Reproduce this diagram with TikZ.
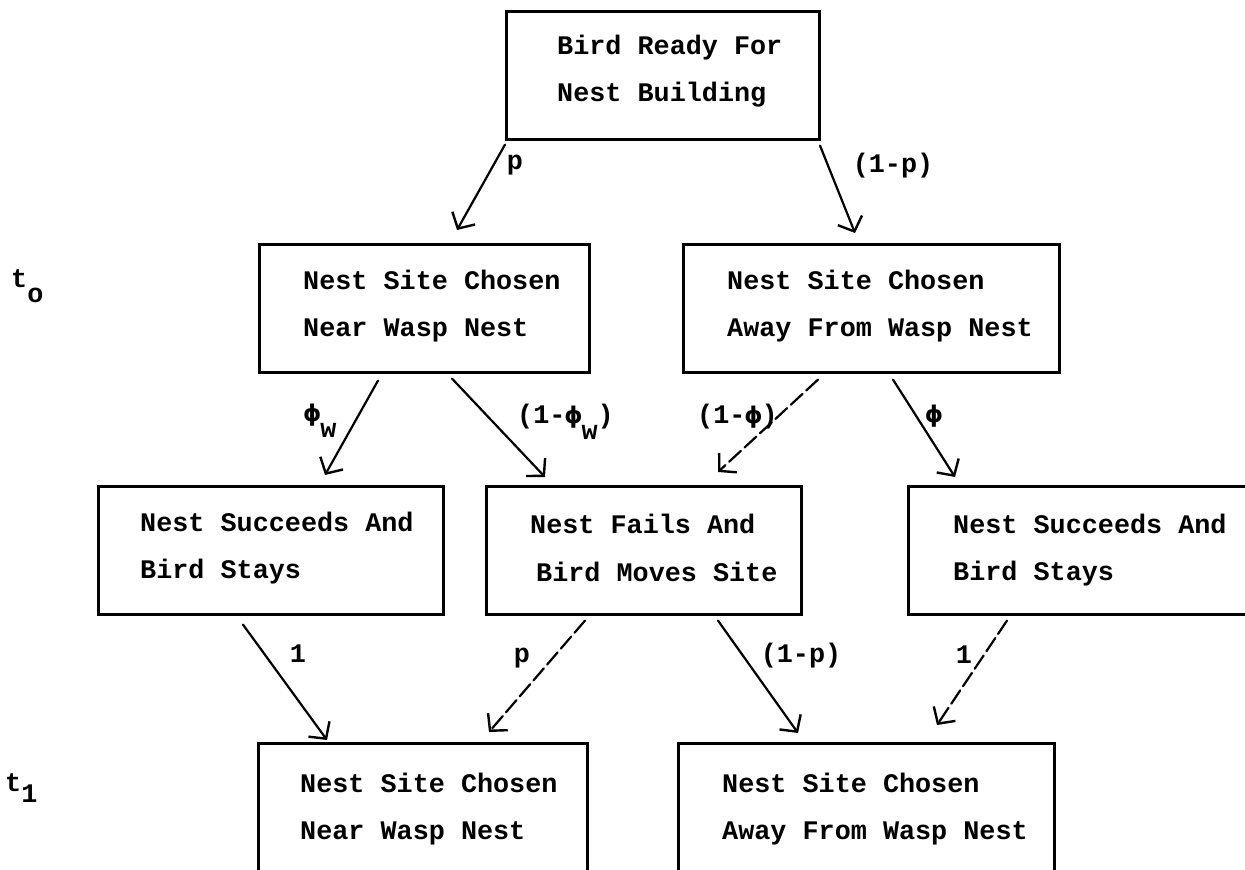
\documentclass[tikz,border=0pt]{standalone}
\usepackage{fontspec}
\usetikzlibrary{arrows.meta}
\newfontfamily\twfont{Liberation Mono}[BoldFont={Liberation Mono Bold}]
\newfontfamily\phifont{DejaVu Sans}[BoldFont={DejaVu Sans Bold}]
% straight phi, one typewriter cell wide
\newcommand\ph{\makebox[16.08pt]{\phifont\bfseries\fontsize{23}{28}\selectfont ϕ}}
% typewriter-style subscript: the next character, dropped below the line
\newcommand\lowr[2][16pt]{\raisebox{-#1}{#2}}

\begin{document}
\begin{tikzpicture}[x=1pt,y=-1pt,
  frame/.style={draw, line width=2.6pt, rectangle, anchor=north west,
    minimum height=128pt, inner sep=0pt},
  txt/.style={anchor=west, align=left, inner sep=0pt,
    font=\twfont\bfseries\fontsize{26.8}{47.5}\selectfont},
  lbl/.style={inner sep=0pt, font=\twfont\bfseries\fontsize{26.8}{32}\selectfont},
  conn/.style={line width=2.2pt, line cap=round,
    -{Straight Barb[length=12pt,width=26pt,line width=2.4pt]}},
  broken/.style={dash pattern=on 16pt off 5pt}
]
\useasboundingbox (0,0) rectangle (1245,870);
\fill[white] (0,0) rectangle (1245,870);
\clip (0,0) rectangle (1245,870);

% boxes
\node[frame, minimum width=313pt] (top)   at (505,10)  {};
\node[frame, minimum width=330pt] (nearA) at (258,243) {};
\node[frame, minimum width=376pt] (awayA) at (682,243) {};
\node[frame, minimum width=345pt] (stayL) at (97,485)  {};
\node[frame, minimum width=315pt] (fail)  at (485,485) {};
\node[frame, minimum width=420pt] (stayR) at (907,485) {};
\node[frame, minimum width=329pt, minimum height=220pt] (nearB) at (257,742) {};
\node[frame, minimum width=376pt, minimum height=220pt] (awayB) at (677,742) {};

% box texts
\node[txt] (topT)   at ([xshift=52pt,yshift=-61pt]top.north west)   {Bird Ready For\\Nest Building};
\node[txt] (nearAT) at ([xshift=45pt,yshift=-63pt]nearA.north west) {Nest Site Chosen\\Near Wasp Nest};
\node[txt] (awayAT) at ([xshift=45pt,yshift=-63pt]awayA.north west) {Nest Site Chosen\\Away From Wasp Nest};
\node[txt] (stayLT) at ([xshift=43pt,yshift=-63pt]stayL.north west) {Nest Succeeds And\\Bird Stays};
\node[txt] (failT)  at ([xshift=45pt,yshift=-63pt]fail.north west)  {Nest Fails And\\\hspace*{6pt}Bird Moves Site};
\node[txt] (stayRT) at ([xshift=46pt,yshift=-65pt]stayR.north west) {Nest Succeeds And\\Bird Stays};
\node[txt] (nearBT) at ([xshift=43pt,yshift=-67pt]nearB.north west) {Nest Site Chosen\\Near Wasp Nest};
\node[txt] (awayBT) at ([xshift=45pt,yshift=-67pt]awayB.north west) {Nest Site Chosen\\Away From Wasp Nest};

% time labels
\node[lbl, anchor=base west] (t0) at (11,287) {t\lowr[15pt]{o}};
\node[lbl, anchor=base west] (t1) at (5,791)  {t\lowr[11pt]{1}};

% transitions
\draw[conn] ([yshift=-4pt]top.south west) -- ([xshift=199pt,yshift=13pt]nearA.north west);
\draw[conn] ([xshift=315pt,yshift=-5pt]top.south west) -- ([xshift=173pt,yshift=10pt]awayA.north west);
\draw[conn] ([xshift=120pt,yshift=-7pt]nearA.south west) -- ([xshift=228pt,yshift=10pt]stayL.north west);
\draw[conn] ([xshift=194pt,yshift=-5pt]nearA.south west) -- ([xshift=60pt,yshift=8pt]fail.north west);
\draw[conn, broken] ([xshift=136pt,yshift=-6pt]awayA.south west) -- ([xshift=233pt,yshift=13pt]fail.north west);
\draw[conn] ([xshift=211pt,yshift=-6pt]awayA.south west) -- ([xshift=48pt,yshift=8pt]stayR.north west);
\draw[conn] ([xshift=146pt,yshift=-9pt]stayL.south west) -- ([xshift=70pt,yshift=2pt]nearB.north west);
\draw[conn, broken] ([xshift=100pt,yshift=-5pt]fail.south west) -- ([xshift=232pt,yshift=10pt]nearB.north west);
\draw[conn] ([xshift=233pt,yshift=-5pt]fail.south west) -- ([xshift=121pt,yshift=9pt]awayB.north west);
\draw[conn, broken] ([xshift=100pt,yshift=-5pt]stayR.south west) -- ([xshift=260pt,yshift=17pt]awayB.north west);

% transition probabilities
\node[lbl] (pA) at (515,165) {p};
\node[lbl] (qA) at (893,166) {(1-p)};
\node[lbl, anchor=base west] (phiw)  at (304,421) {\ph\lowr{w}};
\node[lbl, anchor=base west] (qphiw) at (517,423) {(1-\ph\lowr{w})};
\node[lbl, anchor=base west] (qphi)  at (697,423) {(1-\ph)};
\node[lbl] (phi)  at (934,416) {\ph};
\node[lbl] (oneL) at (298,654) {1};
\node[lbl] (pB)   at (522,658) {p};
\node[lbl] (qB)   at (801,656) {(1-p)};
\node[lbl] (oneR) at (964,655) {1};
\end{tikzpicture}
\end{document}
